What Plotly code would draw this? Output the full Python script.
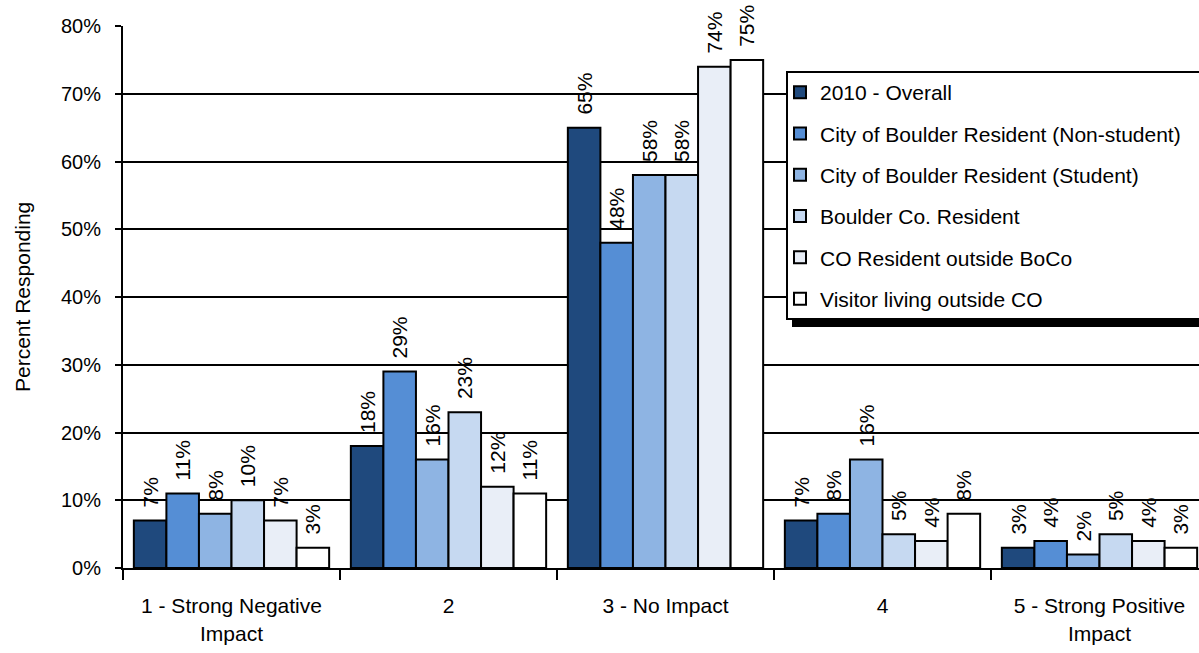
import plotly.graph_objects as go

# Survey responses by rating, split by respondent group
categories = ["1 - Strong Negative<br>Impact", "2", "3 - No Impact", "4", "5 - Strong Positive<br>Impact"]

series_names = [
    "2010 - Overall",
    "City of Boulder Resident (Non-student)",
    "City of Boulder Resident (Student)",
    "Boulder Co. Resident",
    "CO Resident outside BoCo",
    "Visitor living outside CO",
]

overall = [7, 18, 65, 7, 3]
boulder_nonstudent = [11, 29, 48, 8, 4]
boulder_student = [8, 16, 58, 16, 2]
boulder_county = [10, 23, 58, 5, 5]
co_outside_boco = [7, 12, 74, 4, 4]
visitor_outside_co = [3, 11, 75, 8, 3]

series_values = [overall, boulder_nonstudent, boulder_student,
                 boulder_county, co_outside_boco, visitor_outside_co]
colors = ["#1f497d", "#558ed5", "#8eb4e3", "#c6d9f1", "#e9eef7", "#ffffff"]

FONT = "Liberation Sans, Arial, sans-serif"
FS = 21
PAD = "\u00a0\u2009"  # small gap between bar top and its rotated label

fig = go.Figure()
for i, (name, vals, col) in enumerate(zip(series_names, series_values, colors)):
    fig.add_trace(go.Bar(
        name=name,
        x=categories,
        y=vals,
        marker=dict(color=col, line=dict(color="black", width=2)),
        text=[f"{PAD}{v}%" for v in vals],
        textposition="outside",
        textangle=-90,
        constraintext="none",
        cliponaxis=False,
        textfont=dict(family=FONT, size=FS, color="black"),
        legendgroup=f"g{i}",
    ))

# plot-area geometry in pixels
W, H = 1199, 653
L, R, T, B = 123, 0, 26, 85
pw = W - L - R
ph = H - T - B
group_px = 217.0


def px_x(v):
    return (v - L) / pw


def px_y(v):
    return (H - B - v) / ph


fig.update_layout(
    width=W, height=H,
    margin=dict(l=L, r=R, t=T, b=B, autoexpand=False),
    paper_bgcolor="white",
    plot_bgcolor="white",
    barmode="group",
    bargap=0.1,
    bargroupgap=0,
    font=dict(family=FONT, size=FS, color="black"),
    showlegend=True,
    legend=dict(
        x=px_x(780), xanchor="left",
        y=px_y(72), yanchor="top",
        bgcolor="rgba(0,0,0,0)",
        borderwidth=0,
        font=dict(family=FONT, size=FS, color="black"),
        tracegroupgap=11,
        itemwidth=30,
    ),
    xaxis=dict(
        range=[-0.5, -0.5 + pw / group_px],
        showline=True, linecolor="black", linewidth=2,
        ticks="outside", tickson="boundaries", ticklen=10,
        tickcolor="black", tickwidth=2,
        showgrid=False,
        tickfont=dict(family=FONT, size=FS),
        ticklabelstandoff=18,
        fixedrange=True,
    ),
    yaxis=dict(
        range=[0, 80],
        tickvals=[0, 10, 20, 30, 40, 50, 60, 70, 80],
        ticktext=[f"{v}%" for v in range(0, 90, 10)],
        showline=True, linecolor="black", linewidth=2,
        ticks="outside", ticklen=6, tickcolor="black", tickwidth=2,
        showgrid=True, gridcolor="black", gridwidth=1.5,
        zeroline=False,
        tickfont=dict(family=FONT, size=20),
        ticklabelstandoff=10,
        fixedrange=True,
    ),
    annotations=[dict(
        text="Percent Responding",
        xref="paper", yref="paper",
        x=-(L - 22) / pw, y=0.5,
        xanchor="center", yanchor="middle",
        textangle=-90, showarrow=False,
        font=dict(family=FONT, size=FS, color="black"),
    )],
    shapes=[
        # drop shadow under the legend box
        dict(type="rect", xref="paper", yref="paper", layer="above",
             x0=px_x(792), x1=1.05, y0=px_y(327), y1=px_y(318),
             fillcolor="black", line=dict(width=0)),
        # legend box
        dict(type="rect", xref="paper", yref="paper", layer="above",
             x0=px_x(787), x1=1.05, y0=px_y(319), y1=px_y(72),
             fillcolor="white", line=dict(color="black", width=2)),
    ],
)

fig.write_html("out.html")
